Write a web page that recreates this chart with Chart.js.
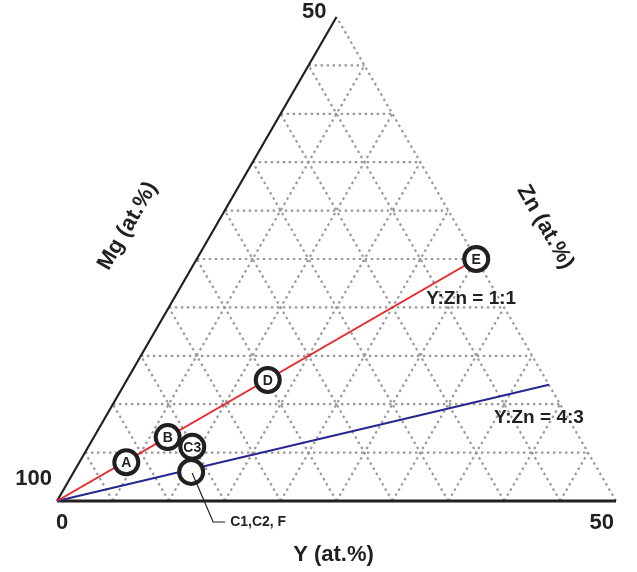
<!DOCTYPE html>
<html>
<head>
<meta charset="utf-8">
<title>Mg-Y-Zn ternary</title>
<script src="https://cdn.jsdelivr.net/npm/chart.js@4.4.1/dist/chart.umd.min.js"></script>
<style>
  html, body { margin: 0; padding: 0; background: #fff; }
  canvas { display: block; }
</style>
</head>
<body>
<canvas id="ternary" width="637" height="572"></canvas>
<script>
// Alloy compositions (at.%), Mg is the balance
const pointLabels = ["A", "B", "C3", "D", "E", ""];
const yValues = [4.2, 6.6, 9.3, 12.6, 25, 10.5];
const znValues = [4.0, 6.6, 5.6, 12.5, 25, 3.0];
const calloutIndex = 5;
const calloutText = "C1,C2, F";

// Y:Zn ratio lines, from pure Mg to the Mg = 50 edge
const ratioLabels = ["Y:Zn = 1:1", "Y:Zn = 4:3"];
const ratioEndY = [25, 38];
const ratioEndZn = [25, 12];
const ratioColors = ["#ec2427", "#27288f"];

// axis ticks
const gridSteps = [5, 10, 15, 20, 25, 30, 35, 40, 45];
const axisMax = 50;
const tickOrigin = ["0", "100"];
const tickEnd = ["50", "50"];
const axisTitles = ["Y (at.%)", "Mg (at.%)", "Zn (at.%)"];

const H = Math.sqrt(3) / 2;
const FONT = "'Liberation Sans', Arial, sans-serif";

function toCart(y, zn) {
  return { x: y + zn / 2, y: zn * H };
}

function pix(chart, y, zn) {
  const c = toCart(y, zn);
  return [chart.scales.x.getPixelForValue(c.x), chart.scales.y.getPixelForValue(c.y)];
}

function segment(ctx, a, b) {
  ctx.beginPath();
  ctx.moveTo(a[0], a[1]);
  ctx.lineTo(b[0], b[1]);
  ctx.stroke();
}

function drawText(ctx, text, x, y, font, align, angle) {
  ctx.save();
  ctx.translate(x, y);
  ctx.rotate(angle || 0);
  ctx.font = font;
  ctx.fillStyle = "#231f20";
  ctx.textAlign = align || "center";
  ctx.textBaseline = "middle";
  ctx.fillText(text, 0, 0);
  ctx.restore();
}

const ternaryFrame = {
  id: "ternaryFrame",
  beforeDatasetsDraw(chart) {
    const ctx = chart.ctx;
    ctx.save();
    // dotted grid
    ctx.strokeStyle = "#9a9a9a";
    ctx.lineWidth = 2.2;
    ctx.setLineDash([2.5, 3.5]);
    gridSteps.forEach((v) => {
      segment(ctx, pix(chart, 0, v), pix(chart, axisMax - v, v));
      segment(ctx, pix(chart, v, 0), pix(chart, v, axisMax - v));
      segment(ctx, pix(chart, v, 0), pix(chart, 0, v));
    });
    segment(ctx, pix(chart, axisMax, 0), pix(chart, 0, axisMax));
    // solid edges
    ctx.setLineDash([]);
    ctx.strokeStyle = "#231f20";
    ctx.lineWidth = 2.2;
    segment(ctx, pix(chart, 0, 0), pix(chart, 0, axisMax));
    ctx.lineWidth = 2.8;
    segment(ctx, pix(chart, 0, 0), pix(chart, axisMax, 0));
    ctx.restore();
  },
  afterDatasetsDraw(chart) {
    const ctx = chart.ctx;
    const meta = chart.getDatasetMeta(0);

    // letters inside circles
    meta.data.forEach((pt, i) => {
      if (pointLabels[i]) {
        drawText(ctx, pointLabels[i], pt.x, pt.y + 1, "bold 14px " + FONT);
      }
    });

    // leader line for the open circle
    const o = pix(chart, 0, 0);
    const c = meta.data[calloutIndex];
    ctx.save();
    ctx.strokeStyle = "#231f20";
    ctx.lineWidth = 1.2;
    ctx.beginPath();
    ctx.moveTo(c.x + 1, c.y + 1);
    ctx.lineTo(c.x + 22, o[1] + 21);
    ctx.lineTo(c.x + 34, o[1] + 21);
    ctx.stroke();
    ctx.restore();
    drawText(ctx, calloutText, c.x + 39, o[1] + 21, "bold 14px " + FONT, "left");

    // ratio line labels
    const e1 = pix(chart, ratioEndY[0], ratioEndZn[0]);
    const e2 = pix(chart, ratioEndY[1], ratioEndZn[1]);
    drawText(ctx, ratioLabels[0], e1[0] - 50, e1[1] + 40, "bold 19px " + FONT, "left");
    drawText(ctx, ratioLabels[1], e2[0] - 55, e2[1] + 33, "bold 19px " + FONT, "left");

    // corner ticks
    const r = pix(chart, axisMax, 0);
    const t = pix(chart, 0, axisMax);
    const big = "bold 22px " + FONT;
    drawText(ctx, tickOrigin[0], o[0] + 5, o[1] + 22, big);
    drawText(ctx, tickOrigin[1], o[0] - 5, o[1] - 22, big, "right");
    drawText(ctx, tickEnd[0], r[0] - 2, r[1] + 22, big, "right");
    drawText(ctx, tickEnd[1], t[0] - 10, t[1] - 5, big, "right");

    // axis titles
    drawText(ctx, axisTitles[0], (o[0] + r[0]) / 2 - 3, o[1] + 54, big);
    const lm = [(o[0] + t[0]) / 2, (o[1] + t[1]) / 2];
    drawText(ctx, axisTitles[1], lm[0] - 69, lm[1] - 33, big, "center", -Math.PI / 3);
    const rm = [(r[0] + t[0]) / 2, (r[1] + t[1]) / 2];
    drawText(ctx, axisTitles[2], rm[0] + 69, rm[1] - 32, big, "center", Math.PI / 3);
  },
};

const pointData = yValues.map((y, i) => toCart(y, znValues[i]));
const lineSets = ratioLabels.map((label, i) => ({
  label: label,
  data: [toCart(0, 0), toCart(ratioEndY[i], ratioEndZn[i])],
  showLine: true,
  borderColor: ratioColors[i],
  borderWidth: 2,
  pointRadius: 0,
  clip: false,
  order: 1,
}));

const ctx = document.getElementById("ternary").getContext("2d");
const ternaryChart = new Chart(ctx, {
  type: "scatter",
  data: {
    datasets: [
      {
        label: "Alloys",
        data: pointData,
        pointRadius: 12,
        pointBorderWidth: 4,
        pointBorderColor: "#231f20",
        pointBackgroundColor: "#ffffff",
        clip: false,
        order: 0,
      },
      ...lineSets,
    ],
  },
  options: {
    responsive: false,
    animation: false,
    layout: { padding: { left: 57, right: 21, top: 17, bottom: 71 } },
    scales: {
      x: { type: "linear", min: 0, max: axisMax, display: false },
      y: { type: "linear", min: 0, max: axisMax * H, display: false },
    },
    plugins: {
      legend: { display: false },
      tooltip: { enabled: false },
    },
  },
  plugins: [ternaryFrame],
});
</script>
</body>
</html>
